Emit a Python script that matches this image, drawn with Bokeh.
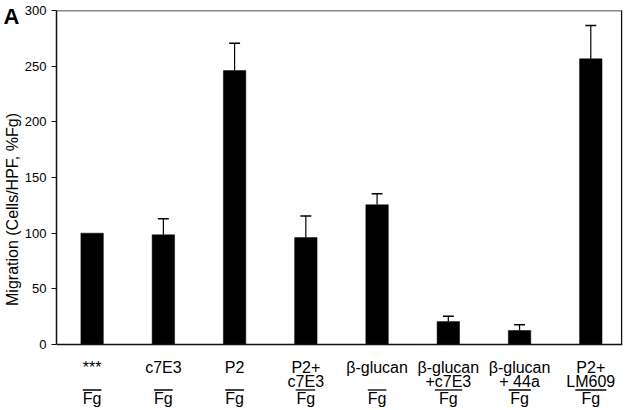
from bokeh.plotting import figure
from bokeh.models import Range1d, FixedTicker, Span, Title
from bokeh.core.properties import value
from bokeh.embed import file_html
from bokeh.resources import INLINE

# ---------------- data ----------------
label_top = ["***", "c7E3", "P2", "P2+", "β-glucan", "β-glucan", "β-glucan", "P2+"]
label_mid = ["", "", "", "c7E3", "", "+c7E3", "+ 44a", "LM609"]
label_mid_underline = [None, None, None, (1, 3), None, (1, 4), (1, 4), (1, 4)]
label_bottom = ["Fg", "Fg", "Fg", "Fg", "Fg", "Fg", "Fg", "Fg"]
migration = [100, 98.5, 246, 96, 125.5, 20.6, 12.6, 256.6]
error_up = [0, 14.4, 24.5, 19.4, 10, 4.8, 5.1, 30]
y_ticks = [0, 50, 100, 150, 200, 250, 300]
y_label = "Migration (Cells/HPF, %Fg)"
panel_letter = "A"

# ---------------- layout constants ----------------
W, H = 624, 408
BORDER_L, BORDER_R, BORDER_T, BORDER_B = 53, 2, 10, 0
X_START, X_END = -0.5, 7.445
Y_TOP = 300
PX_Y = 334 / 300.0                      # pixels per y unit
frame_w = W - BORDER_L - BORDER_R
frame_h = H - BORDER_T - BORDER_B
PX_X = frame_w / (X_END - X_START)
Y_START = Y_TOP - frame_h / PX_Y

FONT = "Liberation Sans"
LBL_PX = 16
CW = {'+': 0.584, ' ': 0.278, 'c': 0.5, '7': 0.556, 'E': 0.667, '3': 0.556,
      '4': 0.556, 'a': 0.556, 'L': 0.556, 'M': 0.833, '6': 0.556, '0': 0.556,
      '9': 0.556, 'F': 0.611, 'g': 0.556}


def tw(s):
    return sum(CW.get(ch, 0.556) for ch in s) * LBL_PX


xs = list(range(len(migration)))

p = figure(width=W, height=H, x_range=Range1d(X_START, X_END),
           y_range=Range1d(Y_START, Y_TOP), output_backend="svg",
           toolbar_location=None, x_axis_location=None,
           min_border_left=BORDER_L, min_border_right=BORDER_R,
           min_border_top=BORDER_T, min_border_bottom=BORDER_B)
p.grid.visible = False
p.outline_line_color = None
p.background_fill_color = "white"

ax = p.yaxis[0]
ax.ticker = FixedTicker(ticks=y_ticks)
ax.bounds = (y_ticks[0], y_ticks[-1])
ax.major_tick_out = 5
ax.major_tick_in = 0
ax.minor_tick_line_color = None
ax.axis_line_width = 1.5
ax.axis_line_color = "#111111"
ax.major_tick_line_color = "#111111"
ax.major_tick_line_width = 1.2
ax.major_label_text_font = FONT
ax.major_label_text_font_size = "13px"
ax.major_label_text_color = "black"
ax.major_label_standoff = 5

# y axis title as a left-side title, shifted up to centre on 0..300
frame_mid_px = frame_h / 2.0
target_mid_px = (Y_TOP - 150) * PX_Y
p.add_layout(Title(text=y_label, align="center", offset=frame_mid_px - target_mid_px,
                   standoff=2, text_font=FONT, text_font_size="16px",
                   text_font_style="normal", text_color="black"), "left")

# frame lines
p.add_layout(Span(location=0, dimension="width", line_color="#111111", line_width=1.5))
p.add_layout(Span(location=Y_TOP, dimension="width", line_color="#111111", line_width=1.5))
p.segment(x0=[X_END - 0.8 / PX_X], y0=[0], x1=[X_END - 0.8 / PX_X], y1=[Y_TOP],
          line_color="#111111", line_width=1.5)

# bars
p.vbar(x=xs, top=migration, bottom=0, width=0.315, fill_color="black",
       line_color="black", line_width=0.5)

# error bars (upper only)
cap = 5.5 / PX_X
ex = [x for x, e in zip(xs, error_up) if e > 0]
ey0 = [v for v, e in zip(migration, error_up) if e > 0]
ey1 = [v + e for v, e in zip(migration, error_up) if e > 0]
p.segment(x0=ex, y0=ey0, x1=ex, y1=ey1, line_color="black", line_width=1.2)
p.segment(x0=[x - cap for x in ex], y0=ey1, x1=[x + cap for x in ex], y1=ey1,
          line_color="black", line_width=1.5)

# category labels
row1, row2, row3 = -23 / PX_Y, -37 / PX_Y, -53.5 / PX_Y
line_y = -45.5 / PX_Y
common = dict(text_align="center", text_baseline="middle",
              text_font=value(FONT), text_font_size=f"{LBL_PX}px", text_color="black")
p.text(x=xs, y=[row1] * len(xs), text=label_top, **common)
p.text(x=xs, y=[row2] * len(xs), text=label_mid, **common)
p.text(x=xs, y=[row3] * len(xs), text=label_bottom, **common)

# overlines over "Fg" where there is no middle row, underlines in middle row
lx0, lx1 = [], []
for i, (mid, ul, bot) in enumerate(zip(label_mid, label_mid_underline, label_bottom)):
    if mid == "":
        w = tw(bot)
        lx0.append(i - w / 2 / PX_X)
        lx1.append(i + w / 2 / PX_X)
    elif ul is not None:
        a, b = ul
        total = tw(mid)
        s = -total / 2 + tw(mid[:a])
        e = -total / 2 + tw(mid[:b])
        lx0.append(i + s / PX_X)
        lx1.append(i + e / PX_X)
p.segment(x0=lx0, y0=[line_y] * len(lx0), x1=lx1, y1=[line_y] * len(lx0),
          line_color="black", line_width=1.3)

# panel letter (overlay level so it is drawn outside the frame)
p.text(x=[X_START], y=[Y_TOP], text=[panel_letter], x_offset=-BORDER_L, y_offset=-7,
       text_align="left", text_baseline="top", text_font=value(FONT),
       text_font_size="22px", text_font_style="bold", text_color="black",
       level="overlay")

open("out.html", "w").write(file_html(p, INLINE))
